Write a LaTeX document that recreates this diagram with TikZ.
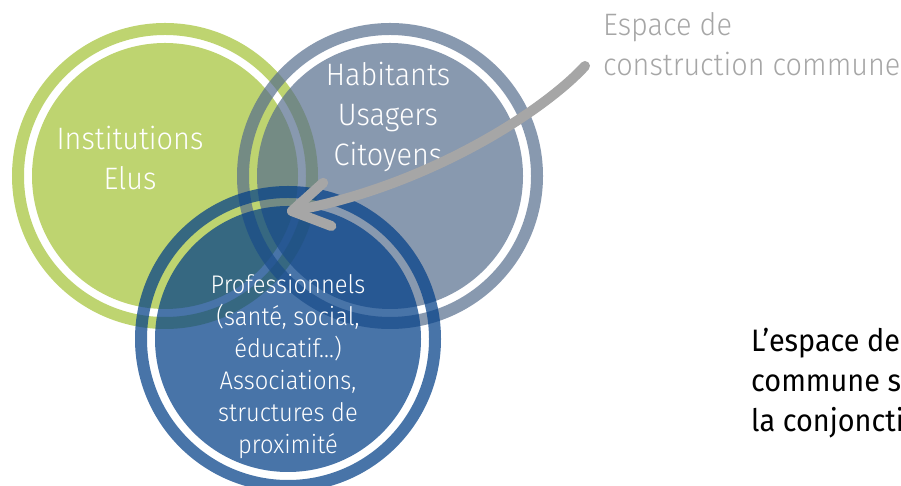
\documentclass[tikz,border=0pt]{standalone}
\usepackage{fontspec}
\setmainfont{Fira Sans Light}[FakeStretch=0.93]
\newfontfamily\regularfont{Fira Sans}[FakeStretch=0.93]
\usetikzlibrary{positioning,arrows.meta}
\definecolor{vennlime}{RGB}{190,212,112}
\definecolor{vennslate}{RGB}{86,109,141}
\definecolor{vennblue}{RGB}{4,64,136}
\definecolor{pointergray}{RGB}{166,166,166}

\begin{document}
\begin{tikzpicture}[x=1pt,y=1pt,
  disc/.style={circle,fill=#1,inner sep=0pt,minimum size=266pt},
  ring/.style={draw=#1,line width=12pt},
  biglabel/.style={text=white,align=center,font=\fontsize{31}{40}\selectfont},
  smalllabel/.style={text=white,align=center,font=\fontsize{25.5}{32}\selectfont},
  note/.style={align=left,anchor=west,inner sep=0pt,font=\fontsize{31}{40}\selectfont},
  pointer/.style={draw=pointergray,line width=10pt,line cap=round,
    -{Straight Barb[length=36pt,width=44pt,round]}}
]
  \useasboundingbox (0,0) rectangle (901,486);
  \clip (0,0) rectangle (901,486);

  % three overlapping circles, each a disc inside a ring
  \node[disc=vennlime] (elus) at (165,310) {};
  \draw[ring=vennlime] (elus.center) circle (147pt);
  \node[disc=vennslate,opacity=.7] (habitants) at (390,310) {};
  \draw[ring=vennslate,opacity=.7] (habitants.center) circle (147pt);
  \node[disc=vennblue,opacity=.73] (pros) at (288,147) {};
  \draw[ring=vennblue,opacity=.73] (pros.center) circle (147pt);

  \node[biglabel] (institutions) at ([xshift=-35pt,yshift=18pt]elus.center) {Institutions\\Elus};
  \node[biglabel] (usagers) at ([xshift=-2pt,yshift=59pt]habitants.center) {Habitants\\Usagers\\Citoyens};
  \node[smalllabel] (acteurs) at ([yshift=-28pt]pros.center)
    {Professionnels\\(santé, social,\\éducatif…)\\Associations,\\structures de\\proximité};

  \node[note,text=pointergray] (espace) at (603,442) {Espace de\\construction commune};
  \node[note,font=\regularfont\fontsize{31}{40}\selectfont] (conclusion) at (751,103)
    {L’espace de\\commune se\\la conjonctio};

  \coordinate (arrowstart) at ([xshift=-18pt,yshift=-22pt]espace.west);
  \coordinate (overlap) at (287,274);
  \draw[pointer] (arrowstart) .. controls +(-40,-44) and +(143,27) .. (overlap);
\end{tikzpicture}
\end{document}
